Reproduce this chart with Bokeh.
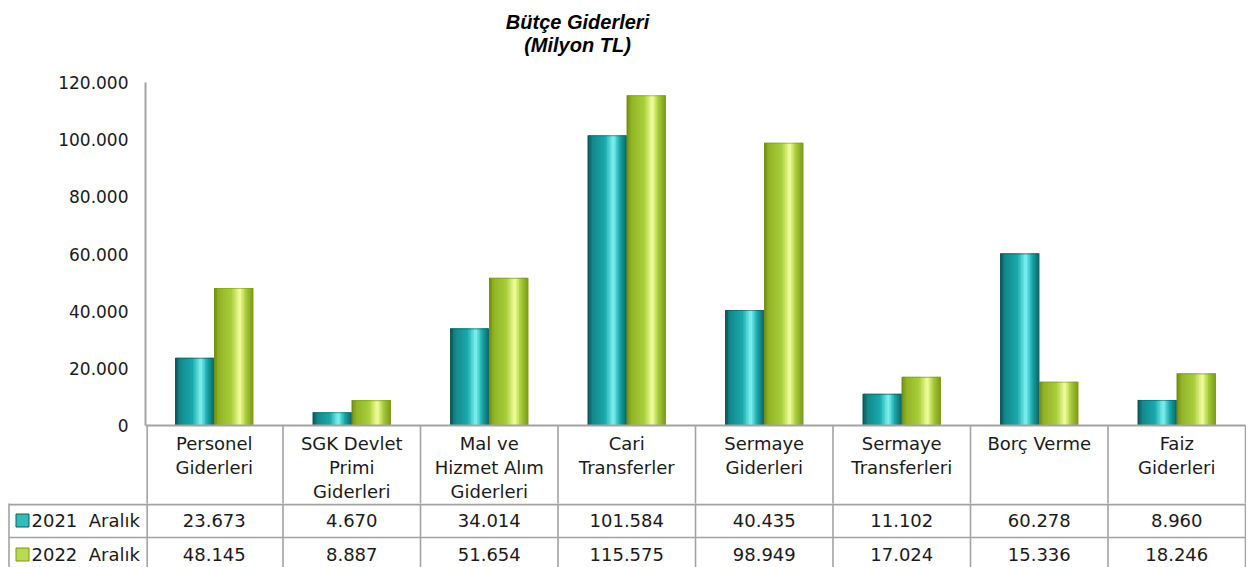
from bokeh.plotting import figure
from bokeh.models import ColumnDataSource, Range1d, FixedTicker
from bokeh.layouts import column
from bokeh.embed import file_html
from bokeh.resources import INLINE
from bokeh.core.properties import value

# ---------------- data ----------------
categories = ["Personel\nGiderleri", "SGK Devlet\nPrimi\nGiderleri",
              "Mal ve\nHizmet Alım\nGiderleri", "Cari\nTransferler",
              "Sermaye\nGiderleri", "Sermaye\nTransferleri", "Borç Verme",
              "Faiz\nGiderleri"]
series_names = ["2021\u00a0 Aralık", "2022\u00a0 Aralık"]
values_2021 = [23673, 4670, 34014, 101584, 40435, 11102, 60278, 8960]
values_2022 = [48145, 8887, 51654, 115575, 98949, 17024, 15336, 18246]
y_ticks = [0, 20000, 40000, 60000, 80000, 100000, 120000]
y_tick_labels = ["0", "20.000", "40.000", "60.000", "80.000", "100.000", "120.000"]
title_lines = ["Bütçe Giderleri", "(Milyon TL)"]

# ---------------- style / layout (page pixels) ----------------
FONT = "DejaVu Sans"
COL_PX = 137.5          # width of one category column
AXIS_X = 145            # page x of the value axis
W = 1246
BASE_Y = 425            # page y of value 0
PLOT_H_PX = 343         # px for 0..120000
HEAD_BOTTOM = 503       # bottom of category-label row
ROW_H = 34
H_A = HEAD_BOTTOM
H_B = 567 - HEAD_BOTTOM
GRID_COL = "#a3a3a3"
TEXT_COL = "#1a1a1a"

teal_stops = [(0.0, "#0a4a4d"), (0.12, "#10868a"), (0.45, "#18a9ac"),
              (0.66, "#80f3f3"), (0.82, "#19a8ab"), (1.0, "#0b6366")]
lime_stops = [(0.0, "#6a880e"), (0.12, "#91b324"), (0.45, "#a8ce3a"),
              (0.66, "#f3ff9e"), (0.82, "#a5ca37"), (1.0, "#799915")]


def hex2rgb(h):
    h = h.lstrip("#")
    return [int(h[k:k + 2], 16) for k in (0, 2, 4)]


def shade(stops, t):
    for (t0, c0), (t1, c1) in zip(stops[:-1], stops[1:]):
        if t0 <= t <= t1:
            f = (t - t0) / (t1 - t0)
            a, b = hex2rgb(c0), hex2rgb(c1)
            return "#%02x%02x%02x" % tuple(int(round(a[k] + (b[k] - a[k]) * f)) for k in range(3))
    return stops[-1][1]


def fmt(v):
    return f"{v:,}".replace(",", ".")


n_cat = len(categories)
y_max = y_ticks[-1]
px_per_val = PLOT_H_PX / y_max


def vy(page_y):
    return (BASE_Y - page_y) / px_per_val


# ---------------- chart figure (incl. category row) ----------------
pA = figure(width=W, height=H_A, output_backend="svg", toolbar_location=None,
            x_range=Range1d(0, (W - AXIS_X) / COL_PX),
            y_range=Range1d(vy(H_A), vy(0)),
            x_axis_location=None, min_border_left=AXIS_X, min_border_right=0,
            min_border_top=0, min_border_bottom=0)
pA.frame_align = False
pA.outline_line_color = None
pA.xgrid.visible = False
pA.ygrid.visible = False
pA.background_fill_color = "white"
pA.border_fill_color = "white"

ax = pA.yaxis[0]
ax.ticker = FixedTicker(ticks=y_ticks)
ax.major_label_overrides = {t: l for t, l in zip(y_ticks, y_tick_labels)}
ax.bounds = (y_ticks[0], y_ticks[-1])
ax.axis_line_color = GRID_COL
ax.axis_line_width = 2
ax.major_tick_line_color = None
ax.minor_tick_line_color = None
ax.major_tick_out = 0
ax.major_tick_in = 0
ax.major_label_standoff = 17
ax.major_label_text_font = FONT
ax.major_label_text_font_size = "17px"
ax.major_label_text_color = TEXT_COL

bw = 39 / COL_PX
n_strips = 26
xs, tops, cols = [], [], []
for s, (vals, stops) in enumerate([(values_2021, teal_stops), (values_2022, lime_stops)]):
    for i, v in enumerate(vals):
        left = i + 0.5 + (s - 1) * bw
        for j in range(n_strips):
            t = (j + 0.5) / n_strips
            xs.append(left + t * bw)
            tops.append(v)
            cols.append(shade(stops, t))
src = ColumnDataSource(dict(x=xs, top=tops, color=cols))
pA.vbar(x="x", top="top", bottom=0, width=bw / n_strips * 1.3, fill_color="color",
        line_color=None, source=src)

# thin top edge of each bar
edge_x, edge_top, edge_col = [], [], []
for s, (vals, ec) in enumerate([(values_2021, "#0c5c5f"), (values_2022, "#7a9a18")]):
    for i, v in enumerate(vals):
        edge_x.append(i + 0.5 + (s - 0.5) * bw)
        edge_top.append(v)
        edge_col.append(ec)
pA.vbar(x=edge_x, top=edge_top, bottom=[t - 1.2 / px_per_val for t in edge_top],
        width=bw * 0.94, fill_color=edge_col, line_color=None, fill_alpha=0.55)

# title
title_x = (577 - AXIS_X) / COL_PX
pA.text(x=[title_x, title_x], y=[vy(21), vy(44)],
        text=title_lines, text_font=value("Liberation Sans"), text_font_style="bold italic",
        text_font_size="20px", text_align="center", text_baseline="middle", text_color="black")

# category row of the table: base line, column lines, labels
pA.segment(x0=[0], y0=[0], x1=[n_cat], y1=[0], line_color=GRID_COL, line_width=2)
cx = [i + (0.012 if i == 0 else 0) for i in range(n_cat + 1)]
pA.segment(x0=cx, y0=[0] * len(cx), x1=cx, y1=[vy(H_A + 5)] * len(cx),
           line_color=GRID_COL, line_width=1.6)
pA.text(x=[i + 0.5 for i in range(n_cat)], y=[vy(432)] * n_cat, text=categories,
        text_font=value(FONT), text_font_size="18px", text_align="center",
        text_baseline="top", text_line_height=1.15, text_color=TEXT_COL)

# ---------------- value rows figure ----------------
x_start = -AXIS_X / COL_PX
x_end = x_start + W / COL_PX
pB = figure(width=W, height=H_B, output_backend="svg", toolbar_location=None,
            x_range=Range1d(x_start, x_end), y_range=Range1d(H_B, 0),
            x_axis_location=None, y_axis_location=None,
            min_border_left=0, min_border_right=0, min_border_top=0, min_border_bottom=0)
pB.frame_align = False
pB.outline_line_color = None
pB.xgrid.visible = False
pB.ygrid.visible = False
pB.border_fill_color = "white"

row_tops = [k * ROW_H for k in range(len(series_names))]
left_edge = x_start + 8.5 / COL_PX

hy = [1] + row_tops[1:]
pB.segment(x0=[left_edge] * len(hy), y0=hy, x1=[n_cat] * len(hy), y1=hy,
           line_color=GRID_COL, line_width=[2] + [1.6] * (len(hy) - 1))
vx = [left_edge] + [i + (0.012 if i == 0 else 0) for i in range(n_cat + 1)]
pB.segment(x0=vx, y0=[-5] * len(vx), x1=vx, y1=[H_B + 5] * len(vx),
           line_color=GRID_COL, line_width=1.6)

for k, vals in enumerate([values_2021, values_2022]):
    yc = row_tops[k] + ROW_H / 2
    pB.text(x=[i + 0.5 for i in range(n_cat)], y=[yc] * n_cat, text=[fmt(v) for v in vals],
            text_font=value(FONT), text_font_size="18px", text_align="center",
            text_baseline="middle", text_color=TEXT_COL)

key_cols = [shade(teal_stops, 0.5), shade(lime_stops, 0.5)]
key_line = ["#0c5c5f", "#7a9a18"]
ky = [row_tops[k] + ROW_H / 2 for k in range(len(series_names))]
pB.scatter(x=[x_start + 22 / COL_PX] * len(ky), y=ky, marker="square", size=13,
           fill_color=key_cols, line_color=key_line, line_width=1)
pB.text(x=[x_start + 31 / COL_PX] * len(ky), y=ky, text=series_names,
        text_font=value(FONT), text_font_size="18px", text_align="left",
        text_baseline="middle", text_color=TEXT_COL)

layout = column(pA, pB, spacing=0)
html = file_html(layout, INLINE)
html = html.replace("</head>", "<style>html,body{overflow:hidden;}</style></head>", 1)
open("out.html", "w").write(html)
